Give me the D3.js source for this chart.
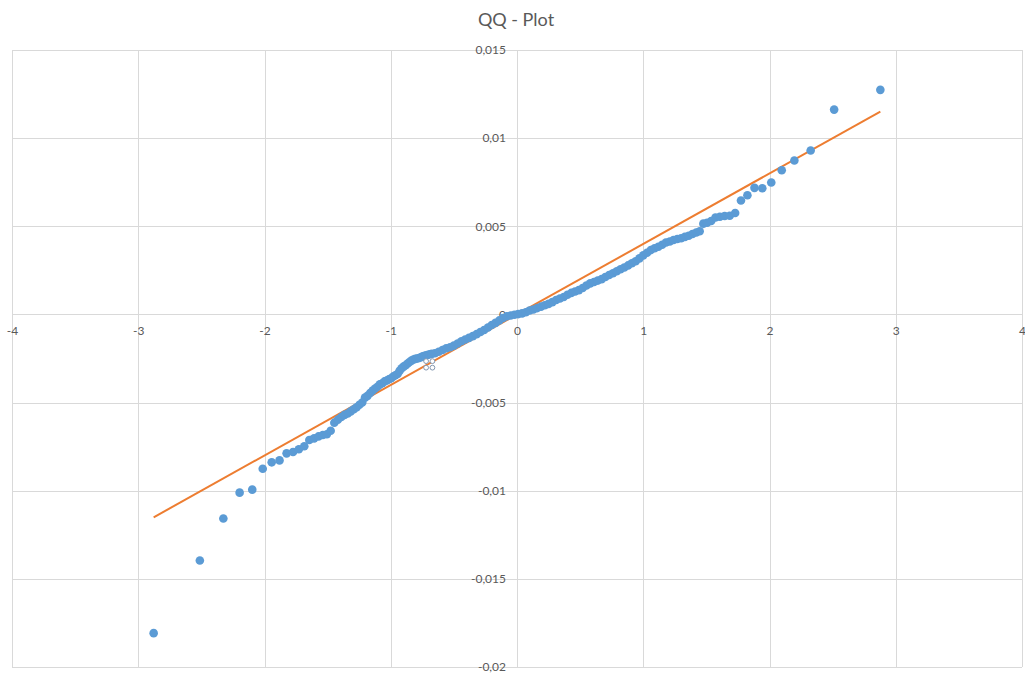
<!DOCTYPE html>
<html>
<head>
<meta charset="utf-8">
<script src="https://cdn.jsdelivr.net/npm/d3@7"></script>
<style>
  html, body { margin: 0; padding: 0; background: #ffffff; }
  svg { display: block; font-family: Lato, "Open Sans", "Liberation Sans", sans-serif; }
</style>
</head>
<body>
<svg id="chart" width="1025" height="675"></svg>
<script>
// Theoretical normal quantiles (x) and sorted sample values (y)
const theoretical = [
  -2.878, -2.512, -2.326, -2.197, -2.097, -2.014, -1.943, -1.881, -1.825, -1.774,
  -1.728, -1.685, -1.645, -1.607, -1.572, -1.538, -1.506, -1.476, -1.447, -1.419,
  -1.392, -1.366, -1.341, -1.317, -1.293, -1.270, -1.248, -1.226, -1.204, -1.184,
  -1.163, -1.143, -1.124, -1.105, -1.086, -1.067, -1.049, -1.031, -1.014, -0.997,
  -0.980, -0.963, -0.946, -0.930, -0.914, -0.898, -0.882, -0.866, -0.851, -0.836,
  -0.820, -0.805, -0.791, -0.776, -0.761, -0.747, -0.732, -0.718, -0.704, -0.690,
  -0.676, -0.650, -0.620, -0.590, -0.560, -0.530, -0.500, -0.470, -0.440, -0.410,
  -0.380, -0.350, -0.320, -0.290, -0.260, -0.230, -0.200, -0.170, -0.140, -0.110,
  -0.080, -0.050, -0.020, 0.010, 0.040, 0.070, 0.100, 0.130, 0.160, 0.190,
  0.220, 0.250, 0.280, 0.310, 0.340, 0.370, 0.400, 0.430, 0.460, 0.490,
  0.520, 0.550, 0.580, 0.610, 0.640, 0.670, 0.700, 0.730, 0.760, 0.790,
  0.820, 0.850, 0.880, 0.910, 0.940, 0.970, 1.000, 1.030, 1.060, 1.090,
  1.120, 1.150, 1.180, 1.210, 1.240, 1.270, 1.300, 1.330, 1.360, 1.390,
  1.420, 1.447, 1.476, 1.506, 1.538, 1.572, 1.607, 1.645, 1.685, 1.728,
  1.774, 1.825, 1.881, 1.943, 2.014, 2.097, 2.197, 2.326, 2.512, 2.878
];
const sample = [
  -0.01808, -0.01396, -0.01158, -0.01011, -0.00994, -0.00875, -0.00839, -0.00828, -0.00788, -0.00780,
  -0.00765, -0.00748, -0.00712, -0.00703, -0.00692, -0.00684, -0.00680, -0.00660, -0.00614, -0.00597,
  -0.00582, -0.00570, -0.00562, -0.00550, -0.00538, -0.00527, -0.00512, -0.00500, -0.00472, -0.00462,
  -0.00446, -0.00432, -0.00420, -0.00410, -0.00397, -0.00390, -0.00380, -0.00375, -0.00368, -0.00362,
  -0.00352, -0.00345, -0.00338, -0.00320, -0.00305, -0.00296, -0.00288, -0.00278, -0.00270, -0.00262,
  -0.00256, -0.00252, -0.00250, -0.00247, -0.00243, -0.00238, -0.00235, -0.00232, -0.00229, -0.00226,
  -0.00224, -0.00220, -0.00212, -0.00202, -0.00192, -0.00186, -0.00177, -0.00165, -0.00152, -0.00142,
  -0.00133, -0.00123, -0.00112, -0.00100, -0.00088, -0.00074, -0.00060, -0.00048, -0.00034, -0.00020,
  -0.00010, -0.00006, -0.00002, 0.00002, 0.00006, 0.00012, 0.00022, 0.00028, 0.00036, 0.00044,
  0.00052, 0.00060, 0.00070, 0.00082, 0.00090, 0.00099, 0.00112, 0.00122, 0.00130, 0.00138,
  0.00150, 0.00164, 0.00176, 0.00184, 0.00192, 0.00200, 0.00212, 0.00224, 0.00234, 0.00245,
  0.00256, 0.00266, 0.00278, 0.00290, 0.00302, 0.00318, 0.00335, 0.00350, 0.00365, 0.00375,
  0.00384, 0.00395, 0.00408, 0.00414, 0.00422, 0.00428, 0.00432, 0.00440, 0.00446, 0.00456,
  0.00465, 0.00472, 0.00515, 0.00520, 0.00530, 0.00550, 0.00554, 0.00558, 0.00560, 0.00575,
  0.00646, 0.00676, 0.00718, 0.00716, 0.00748, 0.00818, 0.00873, 0.00930, 0.01162, 0.01274
];

// Reference line end points
const refLineX = [-2.878, 2.878];
const refLineY = [-0.01151, 0.01151];

// Axis ticks and their labels
const xTicks = [-4, -3, -2, -1, 0, 1, 2, 3, 4];
const xTickLabels = ["-4", "-3", "-2", "-1", "0", "1", "2", "3", "4"];
const yTicks = [-0.02, -0.015, -0.01, -0.005, 0, 0.005, 0.01, 0.015];
const yTickLabels = ["-0,02", "-0,015", "-0,01", "-0,005", "0", "0,005", "0,01", "0,015"];

const chartTitle = "QQ - Plot";

const svg = d3.select("#chart");

const x = d3.scaleLinear().domain([-4, 4]).range([12, 1022]);
const y = d3.scaleLinear().domain([-0.02, 0.015]).range([667, 50]);

// Gridlines
const grid = svg.append("g").attr("stroke", "#d9d9d9").attr("stroke-width", 1).attr("shape-rendering", "crispEdges");
grid.selectAll("line.v").data(xTicks).join("line")
  .attr("class", "v")
  .attr("x1", d => Math.round(x(d)) + 0.5).attr("x2", d => Math.round(x(d)) + 0.5)
  .attr("y1", y(0.015)).attr("y2", y(-0.02));
grid.selectAll("line.h").data(yTicks).join("line")
  .attr("class", "h")
  .attr("x1", x(-4)).attr("x2", x(4))
  .attr("y1", d => Math.round(y(d)) + 0.5).attr("y2", d => Math.round(y(d)) + 0.5);

// Axes crossing at the origin
const xAxis = d3.axisBottom(x)
  .tickValues(xTicks)
  .tickFormat((d, i) => xTickLabels[i])
  .tickSize(0)
  .tickPadding(12);
const gx = svg.append("g").attr("transform", `translate(0,${y(0)})`).call(xAxis);

const yAxis = d3.axisLeft(y)
  .tickValues(yTicks)
  .tickFormat((d, i) => yTickLabels[i])
  .tickSize(0)
  .tickPadding(11);
const gy = svg.append("g").attr("transform", `translate(${x(0)},0)`).call(yAxis);

[gx, gy].forEach(g => {
  g.select(".domain").remove();
  g.selectAll("text").attr("fill", "#595959").style("font-size", "12px")
    .style("font-family", "Lato, 'Open Sans', sans-serif");
});

// Reference line
const lineGen = d3.line().x(d => x(d[0])).y(d => y(d[1]));
svg.append("path")
  .datum(refLineX.map((v, i) => [v, refLineY[i]]))
  .attr("d", lineGen)
  .attr("fill", "none")
  .attr("stroke", "#ed7d31")
  .attr("stroke-width", 2);

// Sample points
svg.append("g").selectAll("circle")
  .data(theoretical.map((v, i) => [v, sample[i]]))
  .join("circle")
  .attr("cx", d => x(d[0]))
  .attr("cy", d => y(d[1]))
  .attr("r", 4.3)
  .attr("fill", "#5b9bd5");

// Small selection handles left on the chart
const handles = [[-0.72, -0.00265], [-0.67, -0.00265], [-0.72, -0.00302], [-0.67, -0.00302]];
svg.append("g").selectAll("circle")
  .data(handles)
  .join("circle")
  .attr("cx", d => x(d[0]))
  .attr("cy", d => y(d[1]))
  .attr("r", 2.4)
  .attr("fill", "#ffffff")
  .attr("stroke", "#8497b0")
  .attr("stroke-width", 1);

// Title
svg.append("text")
  .attr("x", 516)
  .attr("y", 26)
  .attr("text-anchor", "middle")
  .attr("fill", "#595959")
  .style("font-size", "18px")
  .text(chartTitle);
</script>
</body>
</html>
